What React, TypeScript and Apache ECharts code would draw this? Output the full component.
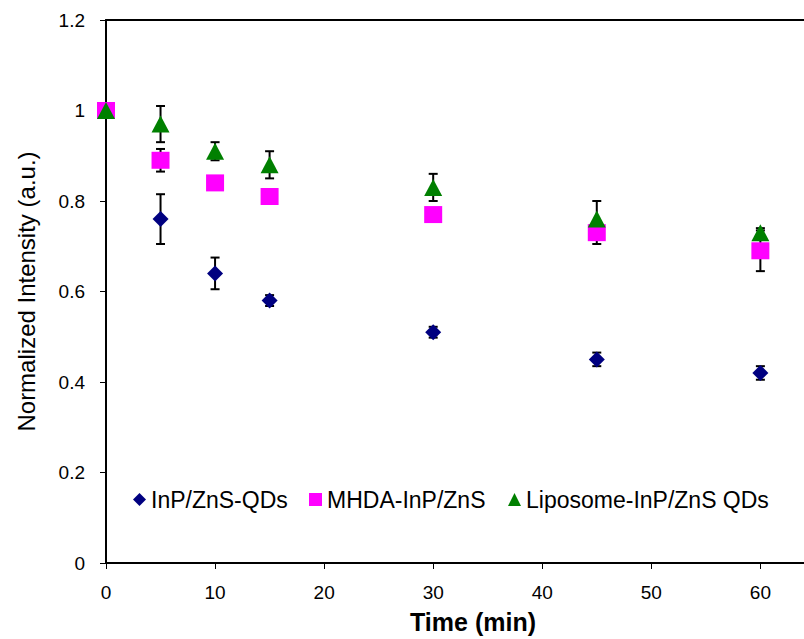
import React, { useEffect, useRef } from "react";
import * as echarts from "echarts";

const times = [0, 5, 10, 15, 30, 45, 60];
const inpValues = [1.0, 0.76, 0.64, 0.58, 0.51, 0.45, 0.42];
const inpErrors = [0, 0.055, 0.035, 0.012, 0.012, 0.015, 0.015];
const mhdaValues = [1.0, 0.89, 0.84, 0.81, 0.77, 0.73, 0.69];
const mhdaErrors = [0, 0.025, 0.01, 0.01, 0.01, 0.025, 0.045];
const lipoValues = [1.0, 0.97, 0.91, 0.88, 0.83, 0.76, 0.73];
const lipoErrors = [0, 0.04, 0.02, 0.03, 0.03, 0.04, 0.01];

const seriesNames = ["InP/ZnS-QDs", "MHDA-InP/ZnS", "Liposome-InP/ZnS QDs"];
const seriesColors = ["#000080", "#FF00FF", "#008000"];
const seriesSymbols = ["diamond", "rect", "triangle"];

const FONT = "'Liberation Sans', Arial, Helvetica, sans-serif";

function errorSeries(values: number[], errors: number[]) {
  return {
    type: "custom",
    z: 2,
    silent: true,
    xAxisIndex: 0,
    encode: { x: 0, y: 1 },
    data: times.map((t, i) => [t, values[i], errors[i]]),
    renderItem: (params: any, api: any) => {
      const x = api.value(0);
      const y = api.value(1);
      const e = api.value(2);
      if (!e) return { type: "group", children: [] };
      const top = api.coord([x, y + e]);
      const bot = api.coord([x, y - e]);
      const hw = 4.5;
      const st = { stroke: "#000", lineWidth: 2 };
      return {
        type: "group",
        children: [
          { type: "line", shape: { x1: top[0], y1: top[1], x2: bot[0], y2: bot[1] }, style: st },
          { type: "line", shape: { x1: top[0] - hw, y1: top[1], x2: top[0] + hw, y2: top[1] }, style: st },
          { type: "line", shape: { x1: bot[0] - hw, y1: bot[1], x2: bot[0] + hw, y2: bot[1] }, style: st },
        ],
      };
    },
  };
}

export default function App() {
  const ref = useRef<HTMLDivElement>(null);
  useEffect(() => {
    if (!ref.current) return;
    const chart = echarts.init(ref.current, null, { renderer: "svg" });
    const allValues = [inpValues, mhdaValues, lipoValues];
    const sizes: any[] = [[16, 16], [18, 17], [18, 17]];
    const legendLefts = [133, 309, 508];
    chart.setOption({
      animation: false,
      backgroundColor: "#fff",
      grid: {
        left: 106,
        top: 20,
        right: 0,
        height: 545,
        show: false,
      },
      legend: seriesNames.map((n, i) => ({
        data: [{ name: n, icon: seriesSymbols[i] }],
        left: legendLefts[i],
        top: 488,
        padding: 0,
        itemWidth: 13,
        itemHeight: 13,
        selectedMode: false,
        textStyle: { fontFamily: FONT, fontSize: 23, color: "#000", lineHeight: 23 },
      })),
      xAxis: [
        {
          type: "value",
          min: 0,
          max: 64,
          interval: 10,
          name: "Time (min)",
          nameLocation: "middle",
          nameGap: 46,
          nameTextStyle: {
            fontFamily: FONT,
            fontSize: 25,
            fontWeight: "bold",
            color: "#000",
            padding: [0, 0, 0, 36],
          },
          axisLine: { show: true, lineStyle: { color: "#000", width: 2 } },
          axisTick: { show: true, length: 6, lineStyle: { color: "#000", width: 1 } },
          axisLabel: {
            fontFamily: FONT,
            fontSize: 19,
            color: "#000",
            margin: 20,
            showMaxLabel: false,
          },
          splitLine: { show: false },
        },
        {
          type: "value",
          position: "top",
          min: 0,
          max: 64,
          interval: 10,
          axisLine: { show: true, onZero: false, lineStyle: { color: "#000", width: 2 } },
          axisTick: { show: false },
          axisLabel: { show: false },
          splitLine: { show: false },
        },
      ],
      yAxis: {
        type: "value",
        min: 0,
        max: 1.2,
        interval: 0.2,
        name: "Normalized Intensity (a.u.)",
        nameLocation: "middle",
        nameGap: 68,
        nameTextStyle: { fontFamily: FONT, fontSize: 24, color: "#000" },
        axisLine: { show: true, lineStyle: { color: "#000", width: 2 } },
        axisTick: { show: true, length: 6, lineStyle: { color: "#000", width: 1 } },
        axisLabel: { fontFamily: FONT, fontSize: 19, color: "#000", margin: 21 },
        splitLine: { show: false },
      },
      series: [
        errorSeries(inpValues, inpErrors),
        errorSeries(mhdaValues, mhdaErrors),
        errorSeries(lipoValues, lipoErrors),
        ...seriesNames.map((n, i) => ({
          name: n,
          type: "scatter",
          z: 3,
          xAxisIndex: 0,
          symbol: seriesSymbols[i],
          symbolSize: sizes[i],
          itemStyle: { color: seriesColors[i], opacity: 1 },
          data: times.map((t, j) => [t, allValues[i][j]]),
        })),
      ],
    });
    return () => chart.dispose();
  }, []);
  return (
    <div
      ref={ref}
      style={{ position: "absolute", left: 0, top: 0, width: 804, height: 639 }}
    />
  );
}
